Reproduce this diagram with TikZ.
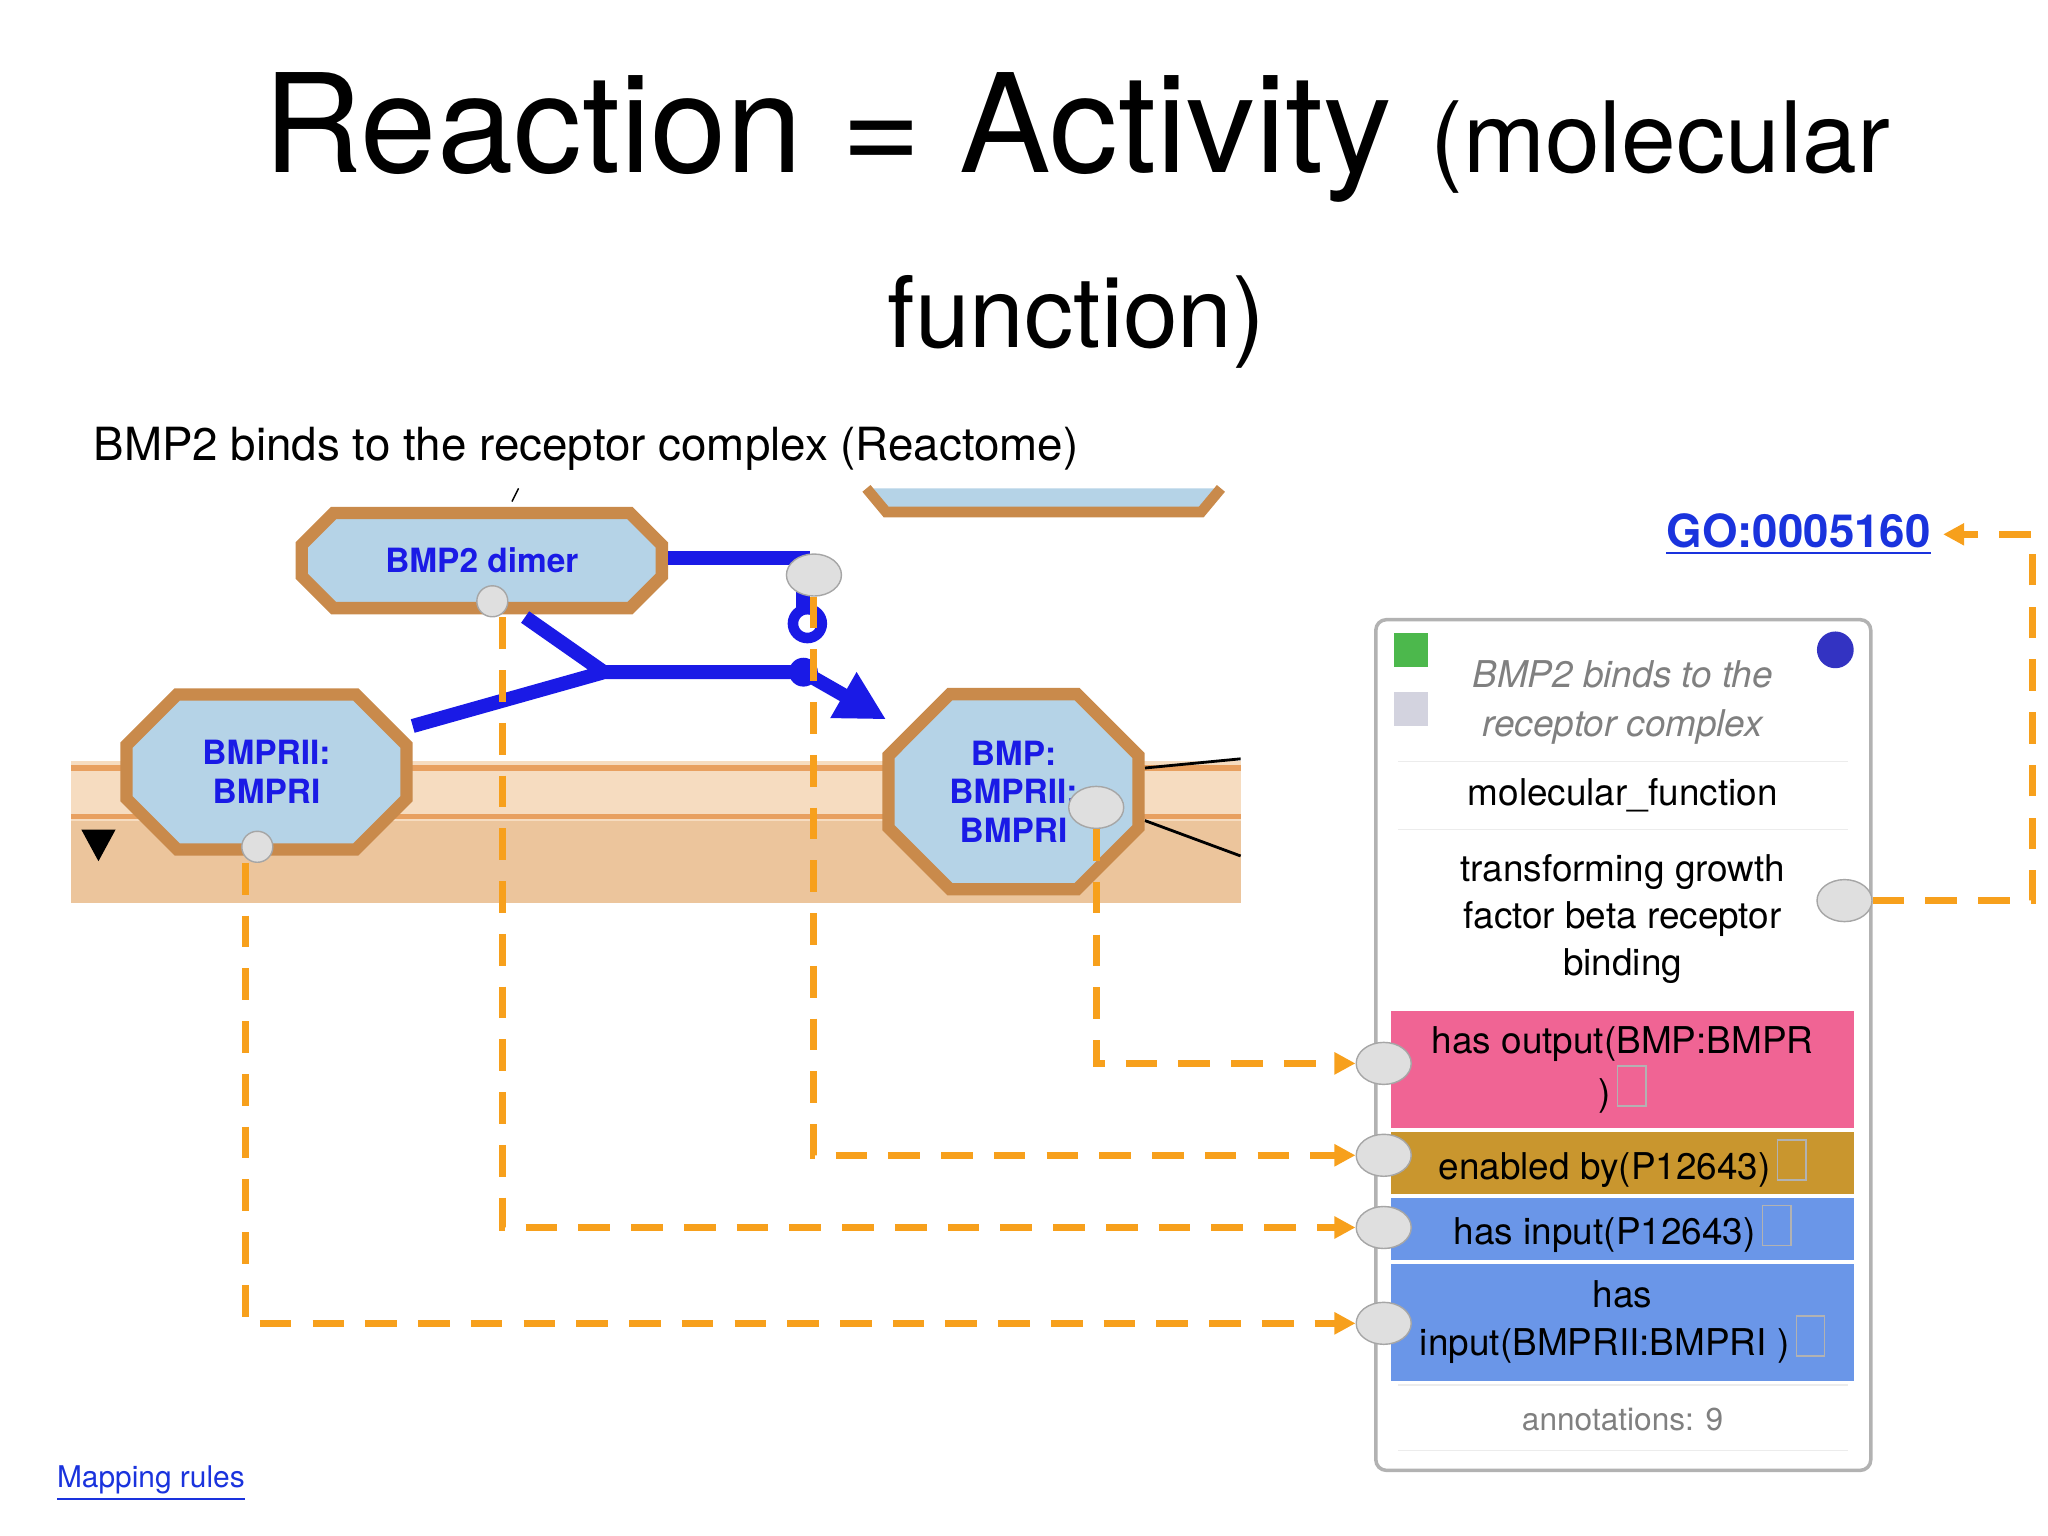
\documentclass[tikz,border=0pt]{standalone}
\usepackage{fontspec}
\setmainfont{TeX Gyre Heros}
\usetikzlibrary{shapes.misc,shapes.geometric,arrows.meta,positioning}
\definecolor{peachA}{HTML}{F6DCC0}
\definecolor{peachB}{HTML}{ECC59C}
\definecolor{bandline}{HTML}{E8A060}
\definecolor{nodefill}{HTML}{B5D3E7}
\definecolor{nodeedge}{HTML}{C98A4B}
\definecolor{rxblue}{HTML}{1A1AE6}
\definecolor{dashor}{HTML}{F7A01C}
\definecolor{pinkrow}{HTML}{F06494}
\definecolor{goldrow}{HTML}{C9962E}
\definecolor{bluerow}{HTML}{6A96E8}
\definecolor{linkblue}{HTML}{1A33DD}
\newcommand{\evbox}{\,{\setlength{\fboxsep}{0pt}\setlength{\fboxrule}{0.4pt}\color{gray!60}\fbox{\rule{0pt}{2ex}\hspace{1.4ex}}}}
\begin{document}
\begin{tikzpicture}[x=0.013128cm, y=-0.013128cm, >=Latex]

% Define styles
\tikzstyle{entity} = [chamfered rectangle, chamfered rectangle xsep=14pt, draw=nodeedge, line width=3.5pt, fill=nodefill, text=rxblue, font=\bfseries\fontsize{9.5}{11}\selectfont, align=center, inner sep=2pt]
\tikzstyle{bigport} = [draw=gray!70, fill=gray!25, ellipse, inner sep=0pt, minimum width=0.55cm, minimum height=0.42cm]
\tikzstyle{smallport} = [draw=gray!70, fill=gray!25, circle, inner sep=0pt, minimum size=0.31cm]
\tikzstyle{mapping} = [dashor, line width=2pt, dash pattern=on 9pt off 6pt, ->, >={Triangle[length=6pt,width=6pt]}]
\tikzstyle{row} = [minimum width=4.63cm, inner sep=0pt, align=center, font=\fontsize{10.5}{13.5}\selectfont]
\tikzstyle{reaction} = [rxblue, line width=4pt]

\useasboundingbox (0,0) rectangle (1560,1170);

% Title
\node at (820,105) {\fontsize{39}{44}\selectfont Reaction = Activity {\fontsize{28}{32}\selectfont (molecular}};
\node at (820,245) {\fontsize{28}{32}\selectfont function)};
\node[anchor=west] at (62,342) {\fontsize{13}{15}\selectfont BMP2 binds to the receptor complex (Reactome)};

% Reactome snapshot
\fill[peachA] (54,580) rectangle (945,625);
\fill[peachB] (54,625) rectangle (945,688);
\draw[bandline, line width=1.5pt] (54,585) -- (945,585) (54,622) -- (945,622);
\draw[nodeedge, line width=3pt, fill=nodefill] (660,372) -- (675,390) -- (915,390) -- (930,372);
\draw[black] (390,382) -- (395,372);
\draw[black, thick] (872,585) -- (945,578) (872,625) -- (945,652);
\fill[black] (62,632) -- (88,632) -- (75,656) -- cycle;

\node[entity, minimum width=3.6cm, minimum height=0.95cm] (dimer) at (367,427) {BMP2 dimer};
\node[entity, minimum width=2.8cm, minimum height=1.55cm] (rec) at (203,588) {BMPRII:\\BMPRI};
\node[entity, minimum width=2.5cm, minimum height=1.95cm] (cplx) at (772,603) {BMP:\\BMPRII:\\BMPRI};

\coordinate (join) at (460,512);
\coordinate (hub) at (612,512);
\draw[reaction] (dimer.east |- 0,425) -- (612,425) -- (612,470);
\draw[reaction] (rec.east |- 0,553) -- (join) (400,470) -- (join) -- (hub);
\draw[reaction, ->, >={Triangle[length=14pt,width=14pt]}] (hub) -- (675,548);
\fill[rxblue] (hub) circle (11);
\draw[rxblue, line width=3pt, fill=white] (615,475) circle (11);

% ports
\node[bigport] (pEnz) at (620,438) {};
\node[smallport] (pDim) at (375,458) {};
\node[smallport] (pRec) at (196,645) {};
\node[bigport] (pOut) at (835,615) {};

% GO-CAM panel
\draw[gray!60, line width=1pt, fill=white, rounded corners=3pt] (1048,472) rectangle (1425,1120);
\node[row, text=gray, font=\itshape\fontsize{10.5}{14}\selectfont] (ttl) at (1236,535) {BMP2 binds to the\\receptor complex};
\fill[green!60!black!70] (1062,482) rectangle (1088,508);
\fill[blue!15!gray!30] (1062,527) rectangle (1088,553);
\fill[blue!70!black!80] (1398,495) circle (14);
\draw[gray!15] (1065,580) -- (1408,580) (1065,632) -- (1408,632) (1065,1055) -- (1408,1055) (1065,1105) -- (1408,1105);
\node[row] (mf) at (1236,606) {molecular\_function};
\node[row] (term) at (1236,700) {transforming growth\\factor beta receptor\\binding};
\node[row, fill=pinkrow, minimum height=1.17cm] (hout) at (1236,815) {has output(BMP:BMPR\\)\evbox};
\node[row, fill=goldrow, minimum height=0.62cm] (henz) at (1236,886) {enabled by(P12643)\evbox};
\node[row, fill=bluerow, minimum height=0.62cm] (hin1) at (1236,936) {has input(P12643)\evbox};
\node[row, fill=bluerow, minimum height=1.17cm] (hin2) at (1236,1007) {has\\input(BMPRII:BMPRI )\evbox};
\node[row, text=gray, font=\fontsize{9}{11}\selectfont] (ann) at (1236,1081) {annotations: 9};

\node[bigport] (qTerm) at (1405,686) {};
\node[bigport] (qOut) at (1054,810) {};
\node[bigport] (qEnz) at (1054,880) {};
\node[bigport] (qIn1) at (1054,935) {};
\node[bigport] (qIn2) at (1054,1008) {};

\node[text=linkblue, font=\bfseries\fontsize{13}{15}\selectfont] (go) at (1370,407) {\underline{GO:0005160}};
\node[anchor=west, text=linkblue, font=\fontsize{8.5}{10}\selectfont] (map) at (34,1130) {\underline{Mapping rules}};

% mappings
\draw[mapping] (pOut.south) |- (qOut.west);
\draw[mapping] (pEnz.south) |- (qEnz.west);
\draw[mapping] (pDim.south) ++(8,0) |- (qIn1.west);
\draw[mapping] (pRec.south) ++(-9,0) |- (qIn2.west);
\draw[mapping] (qTerm.east) -- (1548,686) |- (go.east);

\end{tikzpicture}
\end{document}
